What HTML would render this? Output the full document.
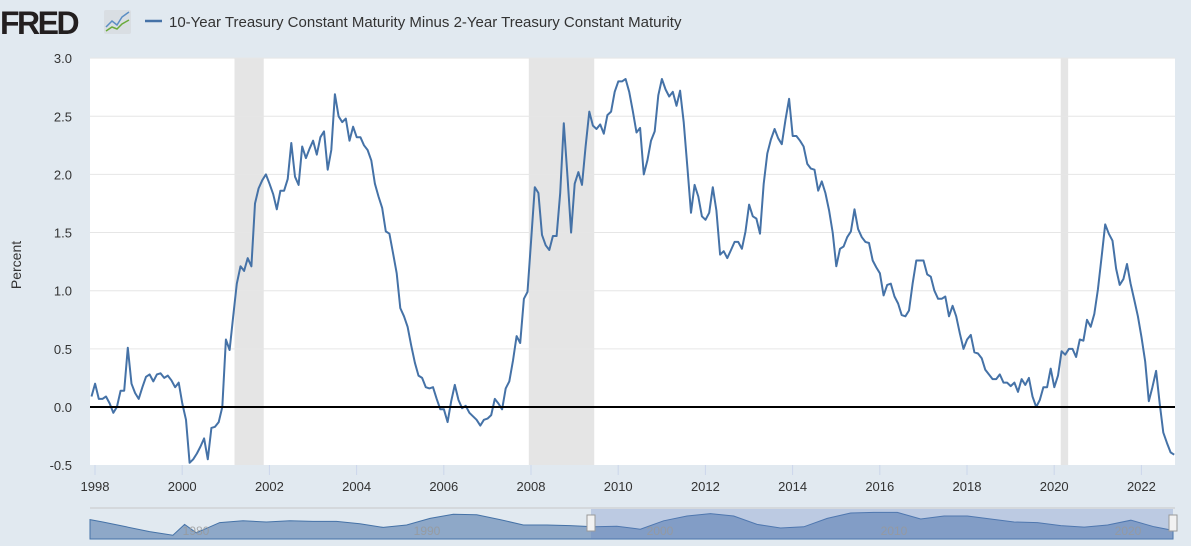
<!DOCTYPE html>
<html><head><meta charset="utf-8"><style>
body{margin:0;width:1191px;height:546px;background:#e1e9f0;overflow:hidden;font-family:"Liberation Sans",sans-serif}
svg{display:block}
</style></head><body>
<svg id="c" width="1191" height="546">
<g>
<text x="0" y="34" font-size="32" font-weight="bold" fill="#231f20" letter-spacing="-2.5" font-family="Liberation Sans, sans-serif">FRED</text>
<rect x="104" y="10" width="27" height="24" rx="2" fill="#d9dee3"/>
<polyline points="106,27 112,21 117,25 122,17 129,12" fill="none" stroke="#5b8ec4" stroke-width="1.5"/>
<polyline points="106,31 112,27 117,29 122,24 129,20" fill="none" stroke="#6aaa3a" stroke-width="1.5"/>
</g>
<g>
<line x1="145" y1="21" x2="162" y2="21" stroke="#4572a7" stroke-width="2.5"/>
<text x="169" y="27" font-size="15" fill="#333">10-Year Treasury Constant Maturity Minus 2-Year Treasury Constant Maturity</text>
</g>
<rect x="90" y="58" width="1085" height="407" fill="#fff"/>
<g id="rec"></g><g id="grid"></g><g id="xax"></g>
<path id="line" fill="none" stroke="#4572a7" stroke-width="2" stroke-linejoin="round"/>
<line id="zero" x1="90" x2="1175" stroke="#000" stroke-width="2"/>
<text x="21" y="265" font-size="14" fill="#333" text-anchor="middle" transform="rotate(-90 21 265)">Percent</text>
<g id="nav"></g>
</svg>
<script>
const values=[0.09,0.20,0.07,0.07,0.09,0.03,-0.05,0.0,0.14,0.14,0.51,0.20,0.12,0.07,0.17,0.26,0.28,0.22,0.28,0.29,0.25,0.27,0.23,0.17,0.21,0.03,-0.11,-0.48,-0.45,-0.40,-0.34,-0.27,-0.45,-0.18,-0.17,-0.13,0.0,0.58,0.49,0.78,1.06,1.21,1.17,1.28,1.21,1.75,1.88,1.95,2.00,1.92,1.83,1.70,1.86,1.86,1.96,2.27,1.98,1.91,2.24,2.14,2.22,2.29,2.17,2.32,2.37,2.04,2.21,2.69,2.50,2.45,2.48,2.29,2.41,2.32,2.32,2.25,2.21,2.12,1.92,1.81,1.71,1.51,1.49,1.32,1.15,0.85,0.78,0.69,0.53,0.38,0.27,0.25,0.17,0.16,0.17,0.07,-0.02,-0.02,-0.13,0.05,0.19,0.06,-0.01,0.01,-0.05,-0.08,-0.11,-0.16,-0.11,
-0.10,-0.07,0.07,0.03,-0.02,0.16,0.22,0.40,0.61,0.55,0.93,0.99,1.43,1.89,1.84,1.48,1.39,1.35,1.47,1.47,1.84,2.44,1.98,1.50,1.92,2.02,1.91,2.24,2.54,2.42,2.39,2.43,2.35,2.51,2.54,2.71,2.80,2.80,2.82,2.71,2.54,2.36,2.40,2.00,2.12,2.29,2.37,2.68,2.82,2.73,2.67,2.71,2.59,2.72,2.45,2.06,1.67,1.91,1.81,1.64,1.61,1.67,1.89,1.69,1.31,1.34,1.28,1.35,1.42,1.42,1.36,1.51,1.74,1.64,1.62,1.49,1.92,2.18,2.30,2.39,2.31,2.26,2.47,2.65,2.33,2.33,2.29,2.24,2.09,2.05,2.04,1.86,1.94,1.84,1.69,1.50,1.21,1.36,1.38,1.46,1.51,1.70,1.53,1.46,1.42,1.41,1.26,1.20,1.15,
0.96,1.05,1.06,0.95,0.89,0.79,0.78,0.83,1.06,1.26,1.26,1.26,1.14,1.12,1.00,0.93,0.93,0.95,0.78,0.87,0.78,0.63,0.50,0.58,0.62,0.47,0.46,0.42,0.32,0.28,0.24,0.24,0.28,0.21,0.21,0.18,0.21,0.13,0.24,0.19,0.25,0.09,0.0,0.06,0.17,0.17,0.33,0.17,0.27,0.48,0.45,0.50,0.50,0.43,0.58,0.57,0.75,0.69,0.80,1.01,1.29,1.57,1.49,1.43,1.19,1.05,1.10,1.23,1.06,0.92,0.78,0.60,0.39,0.05,0.17,0.31,0.03,-0.22,-0.31,-0.39,-0.41];
const startYear=1997.92;
const yTicks=[3.0,2.5,2.0,1.5,1.0,0.5,0.0,-0.5];
const xTicks=[1998,2000,2002,2004,2006,2008,2010,2012,2014,2016,2018,2020,2022];
const recStart=[2001.2,2007.95,2020.15];
const recEnd=[2001.87,2009.45,2020.32];
const navYears=[1976.45,1977,1978,1979,1980,1980.5,1981,1982,1983,1984,1985,1986,1987,1988,1989,1990,1991,1992,1993,1994,1995,1996,1997,1998,1999,2000,2001,2002,2003,2004,2005,2006,2007,2008,2009,2010,2011,2012,2013,2014,2015,2016,2017,2018,2019,2020,2021,2022,2022.8];
const navVals=[1.4,1.0,0.2,-0.6,-1.2,0.6,-0.8,0.9,1.2,1.0,1.2,1.1,1.1,0.7,0.1,0.5,1.6,2.3,2.2,1.4,0.5,0.5,0.4,0.2,0.3,-0.2,1.2,2.0,2.4,2.0,0.6,0.0,0.2,1.6,2.5,2.6,2.6,1.5,2.0,2.0,1.5,1.0,0.9,0.4,0.15,0.5,1.3,0.2,-0.4];
const NS="http://www.w3.org/2000/svg";
const X=d=>95+(d-1998)*43.6;
const Y=v=>407-v*116.3;
function mk(t,a,p){const e=document.createElementNS(NS,t);for(const k in a)e.setAttribute(k,a[k]);p.appendChild(e);return e;}
const rec=document.getElementById('rec');
recStart.forEach((s,i)=>{const r=mk('rect',{x:X(s),y:58,width:X(recEnd[i])-X(s),height:407,fill:'#e5e5e5'},rec);

});
const grid=document.getElementById('grid');
yTicks.forEach(v=>{if(v!==0&&v!==-0.5){const l=mk('line',{x1:90,x2:1175,y1:Y(v),y2:Y(v),stroke:'#e6e6e6','stroke-width':1},grid);

}
const t=mk('text',{x:72,y:Y(v)+5,'font-size':13,fill:'#333','text-anchor':'end'},grid);t.textContent=v.toFixed(1);

});
document.getElementById('zero').setAttribute('y1',Y(0));document.getElementById('zero').setAttribute('y2',Y(0));
const xax=document.getElementById('xax');
xTicks.forEach(y=>{mk('line',{x1:X(y),x2:X(y),y1:465,y2:475,stroke:'#ccd6eb'},xax);
const t=mk('text',{x:X(y),y:491,'font-size':13,fill:'#333','text-anchor':'middle'},xax);t.textContent=y;

});
document.getElementById('line').setAttribute('d',values.map((v,i)=>(i?'L':'M')+X(startYear+i/12).toFixed(1)+' '+Y(v).toFixed(1)).join(''));
// navigator
const nav=document.getElementById('nav');
const NX=d=>90+(d-1976.45)*(1083/(2022.8-1976.45)), NY=v=>528-v*6;
mk('line',{x1:90,x2:1175,y1:508,y2:508,stroke:'#c8c8c8'},nav);
const np='M'+NX(navYears[0])+' 539 '+navYears.map((d,i)=>'L'+NX(d).toFixed(1)+' '+NY(navVals[i]).toFixed(1)).join(' ')+' L'+NX(navYears[navYears.length-1])+' 539Z';
mk('path',{d:np,fill:'#8ea8c8',stroke:'#4572a7','stroke-width':1},nav);
mk('rect',{x:591,y:509,width:582,height:30,fill:'#6685c2','fill-opacity':0.3},nav);
[['1980',196],['1990',427],['2000',660],['2010',894],['2020',1128]].forEach(a=>{const t=mk('text',{x:a[1],y:535,'font-size':12,fill:'#999','fill-opacity':0.8,'text-anchor':'middle'},nav);t.textContent=a[0];});
[591,1173].forEach(x=>{const h=mk('rect',{x:x-4,y:515,width:8,height:16,fill:'#f2f2f2',stroke:'#999'},nav);

});
</script>
</body></html>
